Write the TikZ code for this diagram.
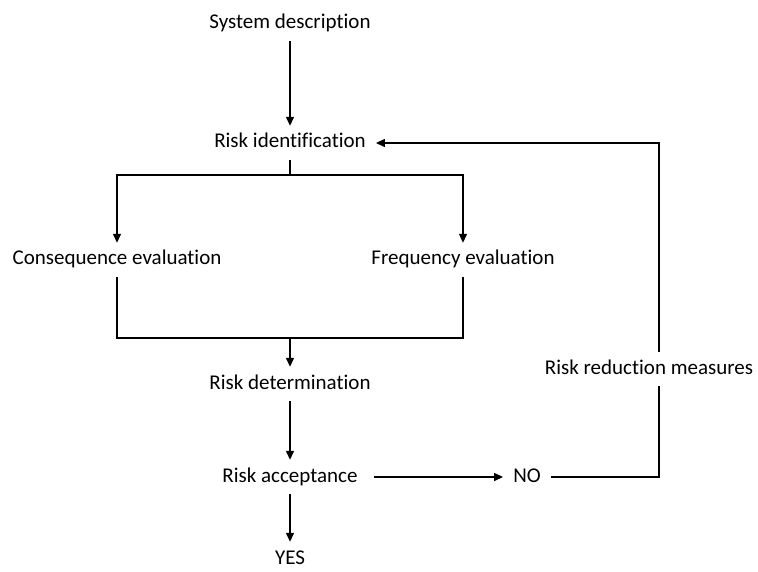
\documentclass[tikz,border=0pt]{standalone}
\usepackage{fontspec}
\setmainfont[Ligatures=NoCommon]{Carlito}
\usetikzlibrary{arrows.meta}
\begin{document}
\begin{tikzpicture}[x=1pt,y=-1pt,
  lbl/.style={font=\fontsize{21}{24}\selectfont, inner xsep=10pt, inner ysep=0pt,
    text height=14pt, text depth=4pt, minimum height=34pt},
  link/.style={line width=1.3pt},
  arr/.style={link, -{Triangle[length=9pt,width=8pt]}}]
\useasboundingbox (0,0) rectangle (758,572);

% steps of the procedure
\node[lbl] (sd)  at (290,24)  {System description};
\node[lbl] (ri)  at (290,143) {Risk identification};
\node[lbl] (ce)  at (117,260) {Consequence evaluation};
\node[lbl] (fe)  at (463,260) {Frequency evaluation};
\node[lbl] (rd)  at (290,384) {Risk determination};
\node[lbl] (ra)  at (290,477) {Risk acceptance};
\node[lbl] (yes) at (290,559) {YES};
\node[lbl] (no)  at (527,477) {NO};
\node[lbl] (rr)  at (649,369) {Risk reduction measures};

% branching and merging points
\coordinate (split) at (290,175);
\coordinate (merge) at (290,338);
\coordinate (back)  at (659,0);

\draw[arr] (sd) -- (ri);
\draw[link] (ri) -- (split);
\draw[arr] (split) -| (ce);
\draw[arr] (split) -| (fe);
\draw[link] (ce) |- (merge);
\draw[link] (fe) |- (merge);
\draw[arr] (merge) -- (rd);
\draw[arr] (rd) -- (ra);
\draw[arr] (ra) -- (yes);
\draw[arr, shorten <=6pt] (ra) -- (no);
\draw[link] (no) -| (rr.south -| back);
\draw[arr] (rr.north -| back) |- (ri);
\end{tikzpicture}
\end{document}
